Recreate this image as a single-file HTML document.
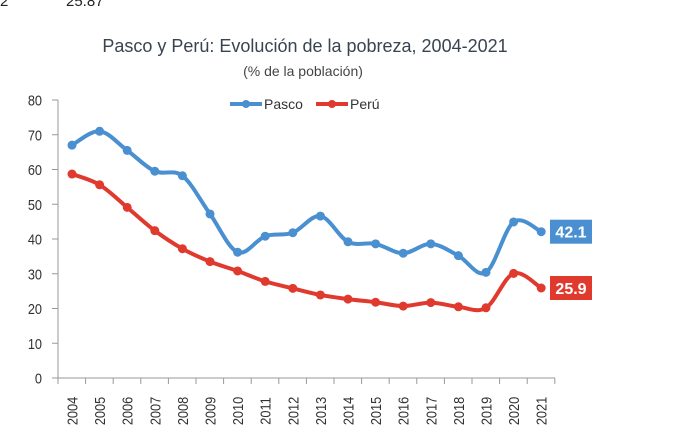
<!DOCTYPE html>
<html><head><meta charset="utf-8"><style>
body{margin:0;background:#fff;width:681px;height:435px;overflow:hidden}
text{font-family:"Liberation Sans",sans-serif}
</style></head><body>
<svg width="681" height="435" id="chart">
<text x="0" y="6" font-size="15" fill="#222">2</text>
<text x="66" y="6" font-size="15" fill="#222">25.87</text>
<text x="305" y="52" font-size="18" fill="#3a4450" text-anchor="middle">Pasco y Perú: Evolución de la pobreza, 2004-2021</text>
<text x="303" y="76" font-size="14" fill="#444" text-anchor="middle">(% de la población)</text>
<g id="legend">
<line x1="230" y1="104" x2="262" y2="104" stroke="#4a90d0" stroke-width="4"/><circle cx="246" cy="104" r="4" fill="#4a90d0"/>
<text x="264" y="109" font-size="14" fill="#333">Pasco</text>
<line x1="316" y1="104" x2="348" y2="104" stroke="#e03a2f" stroke-width="4"/><circle cx="332" cy="104" r="4" fill="#e03a2f"/>
<text x="350" y="109" font-size="14" fill="#333">Perú</text>
</g>
<g id="axes"></g><g id="series"></g>
</svg>
<script>
const years=[2004,2005,2006,2007,2008,2009,2010,2011,2012,2013,2014,2015,2016,2017,2018,2019,2020,2021];
const pasco=[67,71,65.5,59.5,58.2,47.2,36.2,40.8,41.8,46.6,39.2,38.6,35.9,38.6,35.2,30.4,44.9,42.1];
const peru=[58.7,55.6,49.1,42.4,37.2,33.5,30.8,27.8,25.8,23.9,22.7,21.8,20.7,21.7,20.5,20.2,30.1,25.9];
const yTicks=[0,10,20,30,40,50,60,70,80];
const NS="http://www.w3.org/2000/svg";
const X=i=>72+i*27.6, Y=v=>378-v*3.475;
function mk(t,a,p){const e=document.createElementNS(NS,t);for(const k in a)e.setAttribute(k,a[k]);p.appendChild(e);return e;}
const ax=document.getElementById('axes'), se=document.getElementById('series');
const yl=mk('line',{x1:58,y1:Y(80),x2:58,y2:Y(0),stroke:'#999'},ax);


const xl=mk('line',{x1:58,y1:Y(0),x2:555,y2:Y(0),stroke:'#999'},ax);


yTicks.forEach(v=>{mk('line',{x1:52,y1:Y(v),x2:58,y2:Y(v),stroke:'#999'},ax);
const t=mk('text',{transform:`translate(42,${Y(v)+5.5}) scale(0.85,1)`,'font-size':15,fill:'#333','text-anchor':'end'},ax);t.textContent=v;

});
for(let i=0;i<=years.length;i++){mk('line',{x1:58+i*27.6,y1:378,x2:58+i*27.6,y2:384,stroke:'#999'},ax);}
years.forEach((y,i)=>{const t=mk('text',{transform:`translate(${X(i)+5.5},411) rotate(-90) scale(0.85,1)`,'font-size':15,fill:'#333','text-anchor':'middle'},ax);t.textContent=y;

});
function path(d){const p=d.map((v,i)=>[X(i),Y(v)]);let s=`M${p[0][0]},${p[0][1]}`;
for(let i=0;i<p.length-1;i++){const p0=p[i-1]||p[i],p1=p[i],p2=p[i+1],p3=p[i+2]||p2;const k=1/6;
s+=` C${p1[0]+(p2[0]-p0[0])*k},${p1[1]+(p2[1]-p0[1])*k} ${p2[0]-(p3[0]-p1[0])*k},${p2[1]-(p3[1]-p1[1])*k} ${p2[0]},${p2[1]}`;}return s;}
[[pasco,'#4a90d0','pasco'],[peru,'#e03a2f','peru']].forEach(([d,c,n])=>{
const l=mk('path',{d:path(d),fill:'none',stroke:c,'stroke-width':4},se);


d.forEach((v,i)=>{const pt=mk('circle',{cx:X(i),cy:Y(v),r:4.5,fill:c},se);

});
const last=d[d.length-1];
const b=mk('rect',{x:550,y:Y(last)-12,width:42,height:24,fill:c},se);


const t=mk('text',{x:571,y:Y(last)+6,'font-size':16,'font-weight':'bold',fill:'#fff','text-anchor':'middle'},se);t.textContent=last.toFixed(1);

});
</script>
</body></html>
